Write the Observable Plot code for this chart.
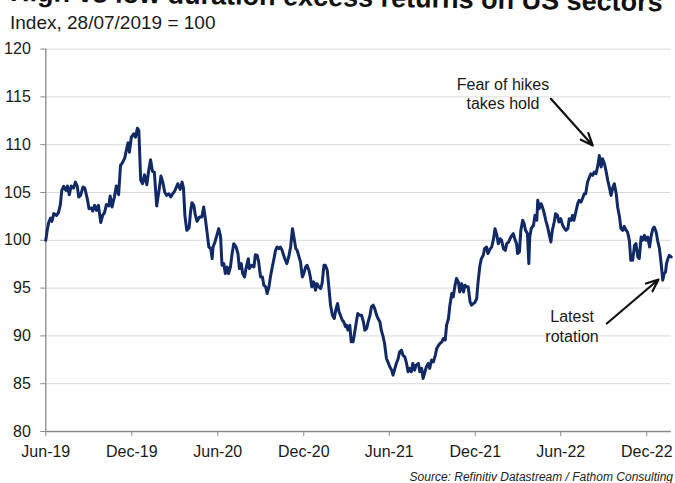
<!DOCTYPE html>
<html>
<head>
<meta charset="utf-8">
<script src="https://cdn.jsdelivr.net/npm/d3@7"></script>
<script src="https://cdn.jsdelivr.net/npm/@observablehq/plot@0.6"></script>
<style>
  html, body { margin: 0; padding: 0; background: #fff; }
  body { width: 675px; height: 483px; position: relative; overflow: hidden; font-family: "Liberation Sans", Arial, sans-serif; }
  #chart { position: absolute; left: 0; top: 0; }
  #title { position: absolute; left: 10px; top: -21px; font-size: 27px; line-height: 27px; font-weight: bold; color: #111; white-space: nowrap; transform-origin: 0 22.9px; transform: rotate(0.9deg); z-index: 2; }
  #subtitle { position: absolute; left: 10px; top: 13.2px; font-size: 19px; line-height: 19px; color: #1a1a1a; white-space: nowrap; z-index: 2; }
  #caption { position: absolute; right: 2px; top: 470.5px; font-size: 12px; line-height: 12px; font-style: italic; color: #222; white-space: nowrap; z-index: 2; }
</style>
</head>
<body>
<div id="chart"></div>
<div id="title">High vs low duration excess returns on US sectors</div>
<div id="subtitle">Index, 28/07/2019 = 100</div>
<div id="caption">Source: Refinitiv Datastream / Fathom Consulting</div>
<script>
const dates = [
"2019-06-01","2019-06-04","2019-06-07","2019-06-11","2019-06-14","2019-06-18","2019-06-24","2019-06-28",
"2019-07-02","2019-07-05","2019-07-09","2019-07-14","2019-07-17","2019-07-21","2019-07-25","2019-07-30",
"2019-08-03","2019-08-07","2019-08-10","2019-08-14","2019-08-19","2019-08-23","2019-08-28",
"2019-09-01","2019-09-06","2019-09-09","2019-09-13","2019-09-17","2019-09-21","2019-09-26","2019-09-30",
"2019-10-04","2019-10-08","2019-10-13","2019-10-16","2019-10-20","2019-10-25","2019-10-29",
"2019-11-03","2019-11-07","2019-11-11","2019-11-16","2019-11-20","2019-11-23","2019-11-26","2019-11-30",
"2019-12-05","2019-12-09","2019-12-13","2019-12-16","2019-12-20","2019-12-24","2019-12-28",
"2020-01-02","2020-01-06","2020-01-10","2020-01-14","2020-01-18","2020-01-23","2020-01-28",
"2020-02-01","2020-02-05","2020-02-09","2020-02-13","2020-02-18","2020-02-22","2020-02-26",
"2020-03-01","2020-03-04","2020-03-08","2020-03-13","2020-03-17","2020-03-20","2020-03-23","2020-03-27",
"2020-04-01","2020-04-04","2020-04-07","2020-04-11","2020-04-14","2020-04-18","2020-04-23","2020-04-28",
"2020-05-02","2020-05-06","2020-05-10","2020-05-13","2020-05-17","2020-05-20","2020-05-22","2020-05-26","2020-05-30",
"2020-06-03","2020-06-07","2020-06-10","2020-06-14","2020-06-17","2020-06-21","2020-06-24","2020-06-28",
"2020-07-01","2020-07-05","2020-07-10","2020-07-14","2020-07-17","2020-07-21","2020-07-24","2020-07-28","2020-07-31",
"2020-08-05","2020-08-07","2020-08-12","2020-08-17","2020-08-20","2020-08-24","2020-08-27","2020-08-31",
"2020-09-04","2020-09-07","2020-09-11","2020-09-14","2020-09-18","2020-09-21","2020-09-25","2020-09-28",
"2020-10-02","2020-10-05","2020-10-09","2020-10-12","2020-10-16","2020-10-19","2020-10-23","2020-10-26","2020-10-30",
"2020-11-03","2020-11-07","2020-11-10","2020-11-14","2020-11-17","2020-11-20","2020-11-24","2020-11-28",
"2020-12-01","2020-12-05","2020-12-08","2020-12-12","2020-12-15","2020-12-18","2020-12-22","2020-12-26","2020-12-29",
"2021-01-02","2021-01-06","2021-01-09","2021-01-13","2021-01-16","2021-01-20","2021-01-23","2021-01-27","2021-01-31",
"2021-02-04","2021-02-07","2021-02-11","2021-02-14","2021-02-17","2021-02-21","2021-02-24","2021-02-28",
"2021-03-02","2021-03-05","2021-03-09","2021-03-12","2021-03-16","2021-03-19","2021-03-23","2021-03-26","2021-03-30",
"2021-04-03","2021-04-07","2021-04-10","2021-04-14","2021-04-17","2021-04-21","2021-04-24","2021-04-28",
"2021-05-01","2021-05-05","2021-05-08","2021-05-12","2021-05-15","2021-05-19","2021-05-22","2021-05-26","2021-05-29",
"2021-06-02","2021-06-06","2021-06-09","2021-06-13","2021-06-16","2021-06-20","2021-06-23","2021-06-27","2021-06-30",
"2021-07-04","2021-07-07","2021-07-11","2021-07-14","2021-07-18","2021-07-21","2021-07-25","2021-07-28",
"2021-08-02","2021-08-05","2021-08-09","2021-08-12","2021-08-16","2021-08-19","2021-08-23","2021-08-26","2021-08-30",
"2021-09-03","2021-09-07","2021-09-10","2021-09-14","2021-09-17","2021-09-21","2021-09-24","2021-09-28",
"2021-10-01","2021-10-05","2021-10-08","2021-10-12","2021-10-15","2021-10-19","2021-10-22","2021-10-26","2021-10-29",
"2021-11-02","2021-11-06","2021-11-09","2021-11-13","2021-11-16","2021-11-20","2021-11-23","2021-11-27","2021-11-30",
"2021-12-04","2021-12-07","2021-12-11","2021-12-14","2021-12-18","2021-12-21","2021-12-25","2021-12-28",
"2022-01-02","2022-01-05","2022-01-09","2022-01-12","2022-01-16","2022-01-19","2022-01-23","2022-01-26","2022-01-30",
"2022-02-03","2022-02-06","2022-02-10","2022-02-13","2022-02-17","2022-02-20","2022-02-24","2022-02-27",
"2022-03-01","2022-03-05","2022-03-08","2022-03-12","2022-03-15","2022-03-18","2022-03-22","2022-03-25","2022-03-27","2022-03-30",
"2022-04-04","2022-04-07","2022-04-11","2022-04-13","2022-04-16","2022-04-20","2022-04-23","2022-04-27","2022-04-30",
"2022-05-04","2022-05-07","2022-05-11","2022-05-14","2022-05-18","2022-05-21","2022-05-25","2022-05-28",
"2022-06-01","2022-06-05","2022-06-09","2022-06-12","2022-06-16","2022-06-19","2022-06-23","2022-06-26","2022-06-29",
"2022-07-03","2022-07-07","2022-07-10","2022-07-14","2022-07-17","2022-07-21","2022-07-24","2022-07-28",
"2022-08-01","2022-08-04","2022-08-08","2022-08-11","2022-08-15","2022-08-19","2022-08-22","2022-08-26","2022-08-29",
"2022-09-02","2022-09-05","2022-09-09","2022-09-13","2022-09-16","2022-09-20","2022-09-23","2022-09-27","2022-09-30",
"2022-10-04","2022-10-07","2022-10-11","2022-10-14","2022-10-18","2022-10-21","2022-10-25","2022-10-28",
"2022-11-01","2022-11-05","2022-11-08","2022-11-12","2022-11-15","2022-11-19","2022-11-22","2022-11-26","2022-11-29",
"2022-12-03","2022-12-07","2022-12-10","2022-12-14","2022-12-17","2022-12-21","2022-12-24","2022-12-28",
"2023-01-01","2023-01-04","2023-01-07","2023-01-10","2023-01-12","2023-01-15","2023-01-18","2023-01-22"
];
const values = [
100.0,101.04,101.84,102.33,101.98,102.79,102.61,102.89,
103.73,105.22,105.64,105.22,105.68,104.77,105.68,105.46,
106.09,105.64,104.53,104.70,105.57,105.46,104.42,
103.31,103.38,103.06,103.66,103.13,103.66,101.85,102.61,
102.89,103.73,103.59,104.63,103.48,104.53,105.68,
104.77,107.83,108.11,108.60,109.57,110.20,109.22,110.79,
111.14,110.79,111.73,111.49,106.27,105.92,106.86,
105.81,107.31,108.42,107.21,107.14,103.59,105.22,
106.72,106.09,105.05,104.70,104.87,104.53,104.87,
105.12,105.46,105.92,105.33,106.09,105.46,102.61,101.04,
101.29,102.96,103.93,103.66,102.68,101.98,102.44,102.44,
103.48,102.09,100.52,99.30,99.13,98.08,99.30,99.82,100.52,
101.22,100.35,97.39,97.56,96.52,97.21,96.52,97.21,
98.43,99.65,99.30,98.61,97.04,97.56,96.52,96.17,97.04,
98.08,97.04,97.39,97.21,98.50,98.43,97.74,96.17,
96.17,95.30,95.13,94.43,95.13,96.17,97.21,97.91,
98.95,99.30,99.13,99.30,98.95,98.43,97.91,97.56,98.26,
99.30,101.22,100.35,99.13,98.95,98.43,97.74,96.17,
96.52,97.21,97.39,96.87,96.17,95.13,95.65,94.78,95.47,
95.13,94.95,95.47,97.39,97.39,96.87,95.30,93.21,92.17,
91.82,92.69,93.39,92.51,92.17,91.64,91.47,90.95,
91.12,90.60,91.12,89.38,89.38,90.25,91.47,92.34,92.17,
92.17,91.47,90.60,90.78,91.47,92.17,93.04,93.21,
92.86,92.17,91.82,91.47,90.60,89.90,89.21,87.64,87.29,
86.77,86.42,85.90,86.60,87.12,87.64,88.34,88.51,87.99,
87.81,87.29,86.25,86.60,86.25,87.12,86.42,86.94,
87.12,86.25,86.60,85.55,86.25,86.77,87.12,86.60,87.47,
87.29,87.99,88.69,89.03,89.21,89.38,89.73,89.56,
91.12,91.82,93.21,94.43,94.08,95.30,96.00,95.65,94.60,
95.47,94.60,95.30,95.13,95.13,93.56,93.21,93.39,93.49,
93.91,95.65,97.39,98.08,98.43,99.13,99.30,98.61,
99.13,99.30,100.17,101.22,100.52,99.65,100.17,100.00,99.13,
98.95,99.65,99.82,100.17,100.52,100.70,100.00,99.65,
98.61,98.78,101.04,102.09,101.74,101.04,100.70,97.56,100.35,101.22,
101.57,102.61,102.09,104.18,103.31,103.83,103.48,102.78,102.09,
101.39,100.70,99.83,101.04,101.91,102.78,102.61,101.91,
102.26,101.57,101.22,101.04,101.22,102.26,102.09,102.61,102.09,
102.96,103.83,104.18,104.00,104.35,104.87,104.87,106.09,
106.61,106.96,106.79,107.14,106.96,107.83,108.88,107.66,108.53,
108.01,107.31,106.27,105.40,104.70,105.57,105.92,104.87,103.48,
102.44,101.22,101.04,101.46,101.04,100.87,100.00,97.91,
97.91,99.48,99.65,98.26,98.08,100.35,100.00,100.52,100.00,
100.35,99.30,100.35,101.22,101.39,100.87,100.00,99.13,
97.39,95.82,96.52,96.69,97.56,98.08,98.43,98.26
];
const xTickDates = ["2019-06-01","2019-12-01","2020-06-01","2020-12-01","2021-06-01","2021-12-01","2022-06-01","2022-12-01"];
const xTickLabels = ["Jun-19","Dec-19","Jun-20","Dec-20","Jun-21","Dec-21","Jun-22","Dec-22"];
const yTicks = [80, 85, 90, 95, 100, 105, 110, 115, 120];
const xDomain = ["2019-06-01", "2023-01-22"];

const annotationTexts = ["Fear of hikes\ntakes hold", "Latest\nrotation"];
const annotationDates = ["2022-01-29", "2022-06-25"];
const annotationValues = [117.14, 92.84];
const arrowFromDates = ["2022-05-11", "2022-09-07"];
const arrowFromValues = [114.80, 91.30];
const arrowToDates = ["2022-08-08", "2022-12-26"];
const arrowToValues = [109.92, 95.90];

const series = dates.map((d, i) => ({date: new Date(d), value: values[i]}));
const notes = annotationTexts.map((t, i) => ({text: t, date: new Date(annotationDates[i]), value: annotationValues[i]}));
const arrows = arrowFromDates.map((d, i) => ({x1: new Date(d), y1: arrowFromValues[i], x2: new Date(arrowToDates[i]), y2: arrowToValues[i]}));
const tickDates = xTickDates.map(d => new Date(d));

const axisGray = "#8a8a8a";
const chart = Plot.plot({
  width: 675,
  height: 483,
  marginTop: 48.6,
  marginBottom: 52,
  marginLeft: 45.3,
  marginRight: 4.3,
  style: {fontFamily: "'Liberation Sans', Arial, sans-serif", fontSize: "16px", color: "#1a1a1a", background: "transparent", overflow: "visible"},
  x: {type: "utc", domain: xDomain.map(d => new Date(d))},
  y: {domain: [80, 120]},
  marks: [
    Plot.gridY(yTicks.filter(v => v > 80), {stroke: "#d9d9d9", strokeOpacity: 1, strokeWidth: 1}),
    Plot.ruleY([80], {stroke: axisGray, strokeWidth: 1.3}),
    Plot.ruleX([new Date(xDomain[0])], {stroke: axisGray, strokeWidth: 1.3}),
    Plot.axisY({ticks: yTicks, tickSize: 5, tickPadding: 10, stroke: axisGray, fill: "#1a1a1a", fontSize: 16, label: null}),
    Plot.axisX({ticks: tickDates, tickFormat: (d, i) => xTickLabels[i], tickSize: 5, tickPadding: 9, stroke: axisGray, fill: "#1a1a1a", fontSize: 16, label: null}),
    Plot.line(series, {x: "date", y: "value", stroke: "#112a66", strokeWidth: 3, strokeLinejoin: "round", strokeLinecap: "round"}),
    Plot.arrow(arrows, {x1: "x1", y1: "y1", x2: "x2", y2: "y2", stroke: "#111", strokeWidth: 2.2, headLength: 9, headAngle: 45}),
    Plot.text(notes, {x: "date", y: "value", text: "text", lineAnchor: "top", lineHeight: 1.2, textAnchor: "middle", fontSize: 16, fill: "#1a1a1a"})
  ]
});
document.getElementById("chart").appendChild(chart);
</script>
</body>
</html>
